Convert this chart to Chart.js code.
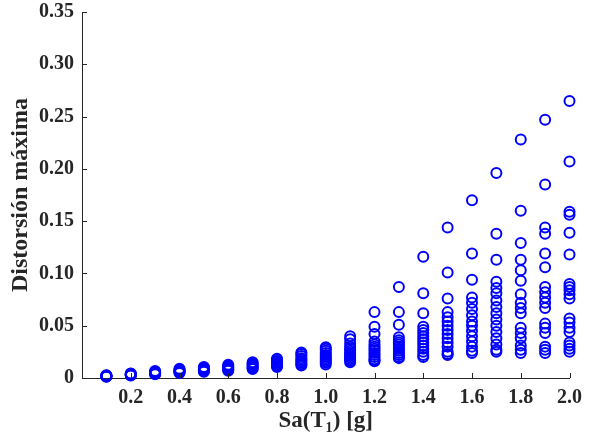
<!DOCTYPE html>
<html>
<head>
<meta charset="utf-8">
<script src="https://cdn.jsdelivr.net/npm/chart.js@4/dist/chart.umd.min.js"></script>
<style>
  html, body { margin: 0; padding: 0; background: #fff; }
  #wrap { width: 590px; height: 444px; }
</style>
</head>
<body>
<div id="wrap"><canvas id="driftChart" width="590" height="444"></canvas></div>
<script>
// Sa(T1) levels [g]
const saLevels = [0.1, 0.2, 0.3, 0.4, 0.5, 0.6, 0.7, 0.8, 0.9, 1.0,
                  1.1, 1.2, 1.3, 1.4, 1.5, 1.6, 1.7, 1.8, 1.9, 2.0];

// maximum drift, one array per Sa level
const drift010 = [0.0012, 0.0014, 0.0016, 0.0018, 0.002, 0.0022, 0.0024, 0.0027];
const drift020 = [0.0024, 0.0027, 0.003, 0.0033, 0.0036, 0.004, 0.0044];
const drift030 = [0.0035, 0.004, 0.0045, 0.005, 0.0055, 0.006, 0.0066];
const drift040 = [0.0048, 0.0054, 0.006, 0.0066, 0.0072, 0.008, 0.0088];
const drift050 = [0.006, 0.0066, 0.0073, 0.008, 0.0088, 0.0097, 0.0106];
const drift060 = [0.007, 0.0078, 0.0086, 0.0095, 0.0105, 0.0115, 0.0126];
const drift070 = [0.0085, 0.0094, 0.0104, 0.0115, 0.0126, 0.0138, 0.015];
const drift080 = [0.0105, 0.0115, 0.0126, 0.0138, 0.015, 0.0163, 0.0176, 0.0185];
const drift090 = [0.012, 0.0132, 0.0145, 0.016, 0.0175, 0.019, 0.021, 0.023, 0.0245];
const drift100 = [0.013, 0.0145, 0.016, 0.0175, 0.019, 0.0205, 0.022, 0.024, 0.026, 0.028, 0.0295];
const drift110 = [0.015, 0.0165, 0.018, 0.0195, 0.021, 0.0225, 0.024, 0.026, 0.028, 0.030, 0.033, 0.037, 0.040];
const drift120 = [0.063, 0.049, 0.042, 0.035, 0.032, 0.030, 0.028, 0.026, 0.024, 0.022, 0.020, 0.018, 0.017, 0.016];
const drift130 = [0.087, 0.063, 0.051, 0.039, 0.036, 0.034, 0.032, 0.030, 0.028, 0.026, 0.024, 0.022, 0.020, 0.019];
const drift140 = [0.116, 0.081, 0.062, 0.049, 0.046, 0.043, 0.040, 0.037, 0.034, 0.031, 0.028, 0.025, 0.022, 0.020];
const drift150 = [0.144, 0.101, 0.076, 0.063, 0.058, 0.054, 0.050, 0.046, 0.042, 0.038, 0.034, 0.030, 0.025, 0.023, 0.022];
const drift160 = [0.170, 0.119, 0.094, 0.077, 0.072, 0.066, 0.060, 0.054, 0.050, 0.045, 0.040, 0.035, 0.030, 0.026, 0.024];
const drift170 = [0.196, 0.138, 0.113, 0.092, 0.086, 0.081, 0.074, 0.068, 0.062, 0.056, 0.050, 0.044, 0.038, 0.032, 0.027, 0.025];
const drift180 = [0.228, 0.160, 0.129, 0.113, 0.103, 0.093, 0.080, 0.072, 0.067, 0.062, 0.048, 0.043, 0.038, 0.031, 0.027, 0.024];
const drift190 = [0.247, 0.185, 0.144, 0.138, 0.119, 0.106, 0.087, 0.082, 0.077, 0.072, 0.067, 0.052, 0.048, 0.043, 0.030, 0.027, 0.024];
const drift200 = [0.265, 0.207, 0.159, 0.156, 0.139, 0.118, 0.090, 0.087, 0.084, 0.080, 0.076, 0.057, 0.053, 0.048, 0.044, 0.034, 0.031, 0.028, 0.025];

const driftByLevel = [drift010, drift020, drift030, drift040, drift050, drift060, drift070,
                      drift080, drift090, drift100, drift110, drift120, drift130, drift140,
                      drift150, drift160, drift170, drift180, drift190, drift200];

// axis ticks
const xTicks = [0.2, 0.4, 0.6, 0.8, 1.0, 1.2, 1.4, 1.6, 1.8, 2.0];
const yTicks = [0, 0.05, 0.10, 0.15, 0.20, 0.25, 0.30, 0.35];

const points = [];
saLevels.forEach((sa, i) => {
    driftByLevel[i].forEach(d => points.push({ x: sa, y: d }));
});

const axisColor = '#262626';
const labelFont = { family: 'Liberation Serif', size: 20, weight: 'bold' };

// MATLAB style ticks pointing into the plot
const inwardTicks = {
    id: 'inwardTicks',
    afterDraw(chart) {
        const ctx = chart.ctx;
        const xs = chart.scales.x, ys = chart.scales.y;
        const area = chart.chartArea;
        ctx.save();
        ctx.strokeStyle = axisColor;
        ctx.lineWidth = 1;
        ctx.beginPath();
        xTicks.forEach(v => {
            const px = Math.round(xs.getPixelForValue(v)) + 0.5;
            ctx.moveTo(px, area.bottom);
            ctx.lineTo(px, area.bottom - 5);
        });
        yTicks.forEach(v => {
            const py = Math.round(ys.getPixelForValue(v)) + 0.5;
            ctx.moveTo(area.left, py);
            ctx.lineTo(area.left + 5, py);
        });
        ctx.stroke();
        ctx.restore();
    }
};

new Chart(document.getElementById('driftChart').getContext('2d'), {
    type: 'scatter',
    data: {
        datasets: [{
            data: points,
            pointStyle: 'circle',
            pointRadius: 5,
            pointBorderWidth: 2,
            borderColor: '#0000ff',
            backgroundColor: 'rgba(0,0,0,0)',
            clip: false
        }]
    },
    options: {
        responsive: false,
        animation: false,
        layout: { padding: { top: 0, right: 20, left: 0, bottom: 0 } },
        plugins: { legend: { display: false }, tooltip: { enabled: false } },
        scales: {
            x: {
                type: 'linear',
                min: 0,
                max: 2.0,
                afterBuildTicks: s => { s.ticks = xTicks.map(v => ({ value: v })); },
                afterFit: s => { s.height = 66; },
                grid: { display: false, drawTicks: false },
                border: { display: true, color: axisColor, width: 1 },
                ticks: {
                    color: axisColor,
                    font: labelFont,
                    padding: 8,
                    maxRotation: 0,
                    callback: v => v.toFixed(1)
                },
                title: {
                    display: true,
                    text: 'Sa(T\u2081) [g]',
                    color: axisColor,
                    font: { family: 'Liberation Serif', size: 23, weight: 'bold' },
                    padding: { top: 2, bottom: 9 }
                }
            },
            y: {
                type: 'linear',
                min: 0,
                max: 0.35,
                afterBuildTicks: s => { s.ticks = yTicks.map(v => ({ value: v })); },
                afterFit: s => { s.width = 82; s.paddingTop = 12; s.paddingBottom = 0; },
                grid: { display: false, drawTicks: false },
                border: { display: true, color: axisColor, width: 1 },
                ticks: {
                    color: axisColor,
                    font: labelFont,
                    padding: 8,
                    callback: v => (v === 0 ? '0' : v.toFixed(2))
                },
                title: {
                    display: true,
                    text: 'Distorsión máxima',
                    color: axisColor,
                    font: { family: 'Liberation Serif', size: 24, weight: 'bold' },
                    padding: { top: 6, bottom: 4 }
                }
            }
        }
    },
    plugins: [inwardTicks]
});
</script>
</body>
</html>
